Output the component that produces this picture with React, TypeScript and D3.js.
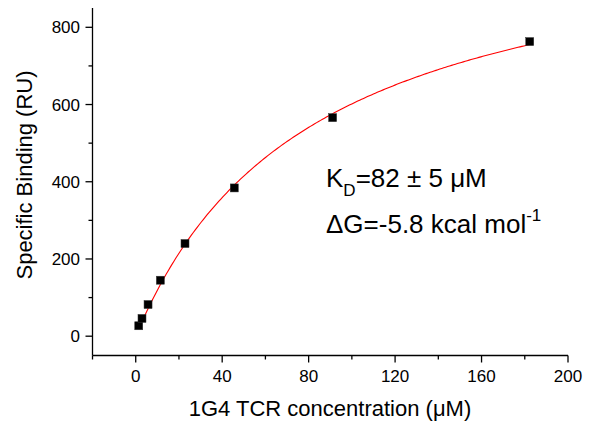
import React from "react";
import * as d3 from "d3";

const concentration = [1.4, 2.9, 5.7, 11.4, 22.8, 45.6, 91.1, 182.3];
const binding = [27, 46, 82, 145, 240, 384, 566, 763];
const xMajorTicks = [0, 40, 80, 120, 160, 200];
const xMinorTicks = [-20, 20, 60, 100, 140, 180];
const yMajorTicks = [0, 200, 400, 600, 800];
const yMinorTicks = [100, 300, 500, 700];
const KD = 82;
const BMAX = 1095;
const FONT = "'Liberation Sans', Arial, Helvetica, sans-serif";

export default function App() {
  const W = 599, H = 423;
  const x = d3.scaleLinear().domain([-20, 200]).range([92.5, 568]);
  const y = d3.scaleLinear().domain([-50, 850]).range([355.5, 8]);

  const x0 = concentration[0], x1 = concentration[concentration.length - 1];
  const fitXs = d3.range(0, 201).map((i) => x0 + ((x1 - x0) * i) / 200);
  const fitLine = d3
    .line<number>()
    .x((d) => x(d))
    .y((d) => y((BMAX * d) / (KD + d)))(fitXs);

  const axisY = 355.5;
  const axisX = 92.5;

  return (
    <svg
      width={W}
      height={H}
      viewBox={`0 0 ${W} ${H}`}
      style={{ position: "absolute", left: 0, top: 0, display: "block", background: "#fff" }}
      fontFamily={FONT}
    >
      <rect x={0} y={0} width={W} height={H} fill="#fff" />
      <line x1={axisX} y1={8} x2={axisX} y2={axisY} stroke="#000" strokeWidth={1.3} />
      <line x1={axisX} y1={axisY} x2={568} y2={axisY} stroke="#000" strokeWidth={1.3} />
      {xMajorTicks.map((t) => (
        <g key={"xM" + t}>
          <line x1={x(t)} x2={x(t)} y1={axisY} y2={axisY + 7} stroke="#000" strokeWidth={1.3} />
          <text x={x(t)} y={382} textAnchor="middle" fontSize={17} fill="#000">
            {t}
          </text>
        </g>
      ))}
      {xMinorTicks.map((t) => (
        <line key={"xm" + t} x1={x(t)} x2={x(t)} y1={axisY} y2={axisY + 4} stroke="#000" strokeWidth={1.3} />
      ))}
      {yMajorTicks.map((t) => (
        <g key={"yM" + t}>
          <line x1={axisX - 7} x2={axisX} y1={y(t)} y2={y(t)} stroke="#000" strokeWidth={1.3} />
          <text x={80} y={y(t) + 6} textAnchor="end" fontSize={17} fill="#000">
            {t}
          </text>
        </g>
      ))}
      {yMinorTicks.map((t) => (
        <line key={"ym" + t} x1={axisX - 4} x2={axisX} y1={y(t)} y2={y(t)} stroke="#000" strokeWidth={1.3} />
      ))}
      <text x={330} y={416} textAnchor="middle" fontSize={22} fill="#000">
        1G4 TCR concentration (μM)
      </text>
      <text
        transform={`translate(32,175) rotate(-90)`}
        textAnchor="middle"
        fontSize={22}
        fill="#000"
      >
        Specific Binding (RU)
      </text>
      <path d={fitLine ?? ""} fill="none" stroke="#ff0000" strokeWidth={1.1} />
      {concentration.map((c, i) => (
        <rect
          key={"p" + i}
          x={x(c) - 4}
          y={y(binding[i]) - 4}
          width={8}
          height={8}
          fill="#000"
          stroke="#333"
          strokeWidth={0.5}
        />
      ))}
      <text x={326} y={187} fontSize={26} fill="#000">
        K<tspan fontSize={17} dy={9}>D</tspan>
        <tspan dy={-9}>=82 ± 5 μM</tspan>
      </text>
      <text x={326} y={233} fontSize={26} fill="#000">
        ΔG=-5.8 kcal mol<tspan fontSize={17} dy={-12}>-1</tspan>
      </text>
    </svg>
  );
}
